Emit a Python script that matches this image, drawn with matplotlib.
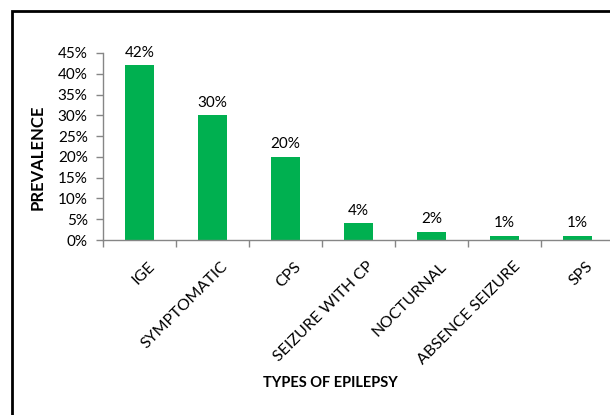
import matplotlib
matplotlib.use("Agg")
import matplotlib.pyplot as plt
from matplotlib.patches import Rectangle
import numpy as np

categories = ["IGE", "SYMPTOMATIC", "CPS", "SEIZURE WITH CP", "NOCTURNAL", "ABSENCE SEIZURE", "SPS"]
values = [42, 30, 20, 4, 2, 1, 1]
yticks = [0, 5, 10, 15, 20, 25, 30, 35, 40, 45]

plt.rcParams['font.family'] = ['Lato', 'DejaVu Sans']

W, H = 610, 415
fig = plt.figure(figsize=(W/100, H/100), dpi=100)
ax = fig.add_axes([103/W, 1-240/H, (614-103)/W, (240-53)/H])

x = np.arange(len(categories))
ax.bar(x, values, width=0.4, color="#00B050", zorder=2)
ax.set_xlim(-0.5, len(categories)-0.5)
ax.set_ylim(0, 45)
ax.set_yticks(yticks)
ax.set_yticklabels([f"{v}%" for v in yticks], fontsize=11)
ax.set_xticks(np.arange(len(categories)+1)-0.5)
ax.set_xticklabels([])
ax.tick_params(axis='x', length=5, color="#868686", width=1)
ax.tick_params(axis='y', length=5, color="#868686", width=1, pad=6)
for s in ['top', 'right']:
    ax.spines[s].set_visible(False)
for s in ['left', 'bottom']:
    ax.spines[s].set_color("#868686")
    ax.spines[s].set_linewidth(1)

for xi, v in zip(x, values):
    ax.annotate(f"{v}%", (xi, v), xytext=(0, 4), textcoords='offset points',
                ha='center', va='bottom', fontsize=11)

for xi, lab in zip(x, categories):
    ax.annotate(lab, (xi, 0), xytext=(6, -14), textcoords='offset points',
                ha='right', va='top', rotation=45, rotation_mode='anchor',
                fontsize=11.5, annotation_clip=False)

fig.text(38/W, 1-157/H, "PREVALENCE", rotation=90, ha='center', va='center',
         fontsize=12, fontweight='bold')
fig.text(330/W, 1-383/H, "TYPES OF EPILEPSY", ha='center', va='center',
         fontsize=10.5, fontweight='bold')

fig.patches.append(Rectangle((11.5/W, -0.1), 1.2, 1-11.5/H+0.1, transform=fig.transFigure,
                             fill=False, edgecolor='black', linewidth=2, zorder=0))

fig.savefig("out.png", dpi=100)
